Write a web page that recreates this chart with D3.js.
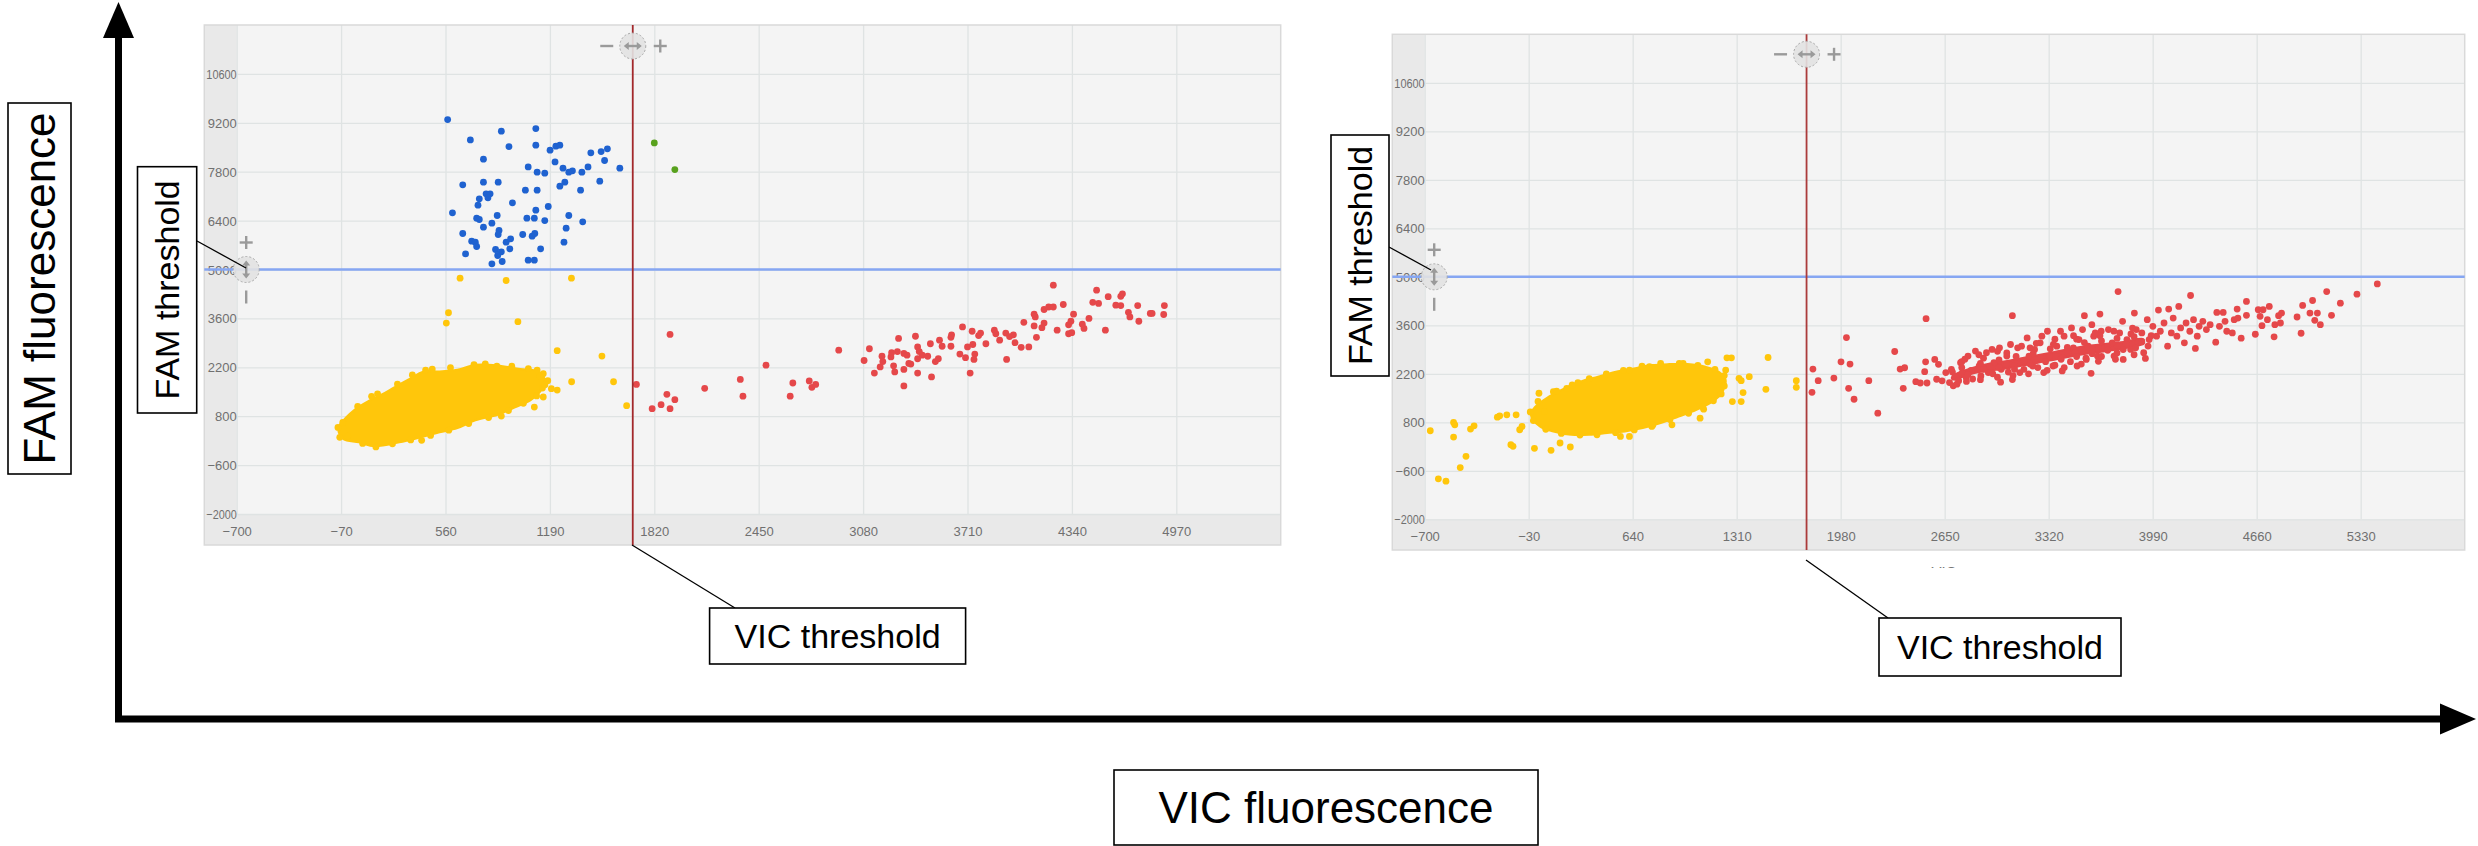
<!DOCTYPE html>
<html><head><meta charset="utf-8">
<script src="https://cdn.jsdelivr.net/npm/d3@7"></script>
<style>html,body{margin:0;padding:0;background:#fff;}svg{display:block;}</style>
</head><body>
<svg id="c" width="2478" height="846"></svg>
<script>
// ---------- axis ticks / domains ----------
const leftTicksX  = [-700, -70, 560, 1190, 1820, 2450, 3080, 3710, 4340, 4970];
const rightTicksX = [-700, -30, 640, 1310, 1980, 2650, 3320, 3990, 4660, 5330];
const ticksY      = [-2000, -600, 800, 2200, 3600, 5000, 6400, 7800, 9200, 10600];
const leftDomainX  = [-700, 5600];
const rightDomainX = [-700, 6000];
const domainY      = [-2000, 12000];
const leftVicThreshold = 1690, leftFamThreshold = 5000;
const rightVicThreshold = 1760, rightFamThreshold = 5000;

// ---------- left plate data [VIC, FAM] ----------
const leftBlue = [[573,9293],[897,8959],[1105,9035],[710,8711],[943,8520],[1105,8558],[1191,8415],[1226,8530],[1250,8558],[1437,8339],[1499,8377],[1537,8454],[789,8158],[1520,8120],[1221,8081],[1059,7938],[1113,7786],[1159,7757],[1269,7900],[1304,7786],[1326,7824],[1383,7786],[1420,7938],[1612,7900],[664,7423],[789,7500],[878,7500],[1042,7271],[1113,7271],[1250,7385],[1280,7500],[1375,7271],[1491,7528],[805,7166],[829,7166],[816,7051],[764,7023],[756,6841],[964,6908],[1180,6803],[1105,6698],[602,6622],[872,6546],[748,6469],[764,6431],[1051,6469],[1096,6469],[1159,6402],[1304,6546],[1388,6364],[840,6326],[789,6212],[883,6116],[878,6002],[664,6030],[1026,6002],[1083,5954],[1099,6030],[1288,6183],[718,5811],[740,5782],[748,5658],[926,5782],[953,5878],[948,5592],[1275,5782],[681,5448],[862,5572],[897,5506],[875,5401],[1134,5592],[902,5229],[840,5162],[1059,5267],[1096,5267]];
const leftGreen = [[1820,8625],[1944,7862]];
const leftYellowCore = [[-83,318],[-56,146],[38,51],[132,-63],[281,51],[416,204],[524,337],[632,461],[740,681],[875,843],[983,1062],[1078,1272],[1132,1511],[1158,1845],[1118,2083],[1010,2150],[875,2255],[740,2274],[632,2131],[524,2083],[430,2083],[335,1845],[254,1635],[173,1415],[92,1225],[11,986],[-43,748],[-83,509]];
const leftYellow = [[648,4752],[926,4685],[1320,4752],[578,3762],[565,3466],[997,3505],[1234,2675],[1504,2522],[1321,1787],[1574,1787],[1653,1101],[1113,2121],[1150,2016],[1177,1816],[1145,1606],[1199,1587],[1234,1549],[1150,1349],[1096,1062],[897,805],[114,1368],[416,108],[-89,480],[-78,194],[440,2121],[732,2274],[870,2236],
  [-60,620],[30,1080],[150,1440],[270,1720],[360,1980],[480,2150],[590,2190],[800,2300],[960,2230],[1060,2160],[1130,1950],[1160,1700],[1110,1380],[1030,1170],[940,960],[820,760],[700,590],[580,400],[470,250],[350,120],[240,10],[140,-80],[60,20],[-30,230]];
const leftRed = [[1712,1711],[1915,3142],[1807,1015],[1861,1129],[1896,1425],[1915,1015],[1944,1272],[2124,1597],[2339,1852],[2355,1372],[2494,2261],[2640,1372],[2656,1750],[2755,1811],[2771,1627],[2794,1709],[2933,2690],[3086,2394],[3118,2731],[3148,2036],[3183,2210],[3199,2363],[3194,2517],[3248,2496],[3252,2619],[3264,2241],[3271,2067],[3287,2649],[3294,3028],[3326,1668],[3326,2138],[3326,2598],[3345,2547],[3356,2312],[3368,2292],[3396,3089],[3409,2782],[3409,2445],[3409,2036],[3419,2649],[3437,2547],[3470,2517],[3486,2874],[3493,1924],[3516,2363],[3534,2445],[3541,2976],[3557,2802],[3610,3058],[3614,3130],[3610,2802],[3664,2578],[3680,3355],[3698,2476],[3710,2782],[3726,2036],[3738,3232],[3742,2853],[3754,2578],[3749,2425],[3777,3109],[3789,3181],[3821,2874],[3872,3263],[3881,3160],[3904,2976],[3946,2425],[3941,3181],[3964,3079],[3987,3130],[3997,2904],[4034,2772],[4050,3487],[4080,2782],[4112,3722],[4119,3641],[4112,3385],[4126,3058],[4159,3334],[4172,3467],[4172,3855],[4200,3927],[4228,3927],[4228,4550],[4251,3263],[4288,3998],[4320,3416],[4320,3160],[4334,3518],[4350,3722],[4339,3191],[4403,3436],[4413,3314],[4443,3600],[4466,4060],[4489,4407],[4501,4029],[4542,3263],[4559,4223],[4605,3978],[4635,4233],[4645,4305],[4635,3968],[4681,3774],[4690,3641],[4737,3968],[4744,3518],[4813,3743],[4824,3743],[4894,3712],[4898,3968]];

// ---------- right plate data [VIC, FAM] ----------
const rightYellowCore = [[42,680],[129,537],[244,441],[359,441],[475,489],[590,537],[705,632],[820,776],[936,967],[1051,1159],[1138,1350],[1195,1542],[1224,1733],[1239,2020],[1195,2260],[1109,2403],[993,2480],[878,2480],[763,2451],[648,2355],[532,2260],[417,2116],[302,1973],[201,1781],[100,1542],[13,1255],[-16,1015]];
const rightYellow = [[-664,556],[-612,-832],[-563,-899],[-514,374],[-514,795],[-506,728],[-471,-507],[-434,-181],[-405,604],[-382,699],[-232,948],[-217,987],[-171,1015],[-111,1015],[-145,154],[-131,106],[-88,585],[-73,680],[7,48],[36,1638],[71,1111],[114,-9],[129,1685],[172,202],[215,1781],[238,87],[287,1944],[1074,920],[1097,1178],[1123,2547],[1247,2662],[1276,2662],[1239,2308],[1325,2068],[1339,2001],[1391,2116],[1498,1752],[1351,1657],[1282,1398],[1339,1398],[1512,2671],[1694,2001],[1694,1810],[619,393],[561,393],[763,680],[893,728],[878,2403],[965,2499],[748,2403],[619,2308],
  [30,1400],[150,1700],[250,1880],[360,2060],[470,2200],[580,2300],[700,2420],[820,2500],[940,2500],[1060,2440],[1170,2330],[1230,2150],[1230,1850],[1210,1620],[1160,1420],[1090,1250],[1000,1060],[880,880],[770,720],[650,580],[530,500],[410,440],[300,430],[180,480],[80,600],[0,850],[-20,1100]];
const rightRedCore = [[2700,2130],[2850,2400],[3086,2600],[3324,2800],[3562,3000],[3800,3120],[3930,3200],[3930,3080],[3800,2930],[3562,2780],[3324,2580],[3086,2380],[2850,2230],[2700,2040]];
const rightRed = [[1795,1666],[1801,2336],[1835,2001],[1936,2078],[1982,2547],[2017,3246],[2040,2480],[2031,1781],[2066,1465],[2161,2001],[2219,1063],[2328,2844],[2363,2336],[2392,2375],[2383,1781],[2464,1973],[2493,1934],[2527,2547],[2521,2260],[2536,1934],[2530,3791],
  [2586,2616],[2598,2043],[2610,2473],[2633,1996],[2657,2234],[2681,1948],[2693,2330],[2705,1852],[2729,1900],[2752,2521],[2764,2234],[2800,2712],[2788,2091],[2848,2855],[2872,2425],[2883,2139],[2919,2807],[2931,2234],[2955,2903],[2967,2521],[3003,2951],[3010,1957],[3014,2330],[3050,2712],[3074,3046],[3086,3877],[3086,2034],[3098,2425],[3134,2234],[3145,2998],[3181,3237],[3193,2712],[3217,2425],[3229,2903],[3265,3094],[3276,3285],[3288,2234],[3312,3428],[3324,2712],[3348,2425],[3372,2998],[3396,3428],[3407,2282],[3419,3285],[3443,2807],[3467,3524],[3479,2951],[3503,2425],[3515,3189],[3538,3476],[3550,3877],[3562,2616],[3574,2998],[3593,2215],[3598,3619],[3610,3285],[3634,2712],[3650,3925],[3658,3428],[3681,2951],[3705,3476],[3729,3094],[3741,2712],[3767,4574],[3777,3380],[3796,3715],[3800,2616],[3824,3189],[3848,2903],[3872,3953],[3884,3476],[3896,3094],[3920,3380],[3932,2807],[3943,2645],[3955,3762],[3967,3189],[3991,3571],[4015,3285],[4027,4039],[4039,3428],[4063,3667],[4086,2998],[4093,4068],[4110,3380],[4122,3810],[4146,3285],[4158,4144],[4170,3524],[4194,3094],[4205,3667],[4229,3428],[4234,4460],[4253,3762],[4265,2932],[4277,3285],[4289,3571],[4313,3715],[4336,3476],[4360,3619],[4396,3113],[4403,3972],[4420,3571],[4444,3972],[4456,3715],[4467,3428],[4503,3380],[4515,3762],[4534,4068],[4539,3810],[4560,3228],[4594,4288],[4594,3887],[4651,3342],[4670,4049],[4682,3858],[4701,4049],[4694,3590],[4729,3762],[4741,4144],[4772,3266],[4777,3619],[4801,3877],[4813,3667],[4820,3953],[4920,3839],[4946,3371],[4956,4173],[5003,3953],[5020,4316],[5034,3743],[5051,3953],[5070,3619],[5111,4574],[5142,3887],[5199,4240],[5306,4498],[5437,4794],
  [2700,2250],[2760,2380],[2820,2300],[2880,2500],[2940,2420],[3000,2600],[3050,2480],[3110,2700],[3160,2560],[3220,2780],[3270,2650],[3330,2920],[3380,2700],[3440,2960],[3490,2820],[3550,3100],[3600,2900],[3660,3150],[3700,2980],[3760,3220],[3820,3050],[3870,3270],[3920,3120],[3980,3300],
  [2720,2100],[2800,2180],[2900,2330],[3000,2380],[3100,2330],[3200,2480],[3300,2550],[3400,2620],[3500,2700],[3600,2780],[3700,2880],[3800,2900],[2760,2550],[2900,2650],[3050,2800],[3200,2950],[3350,3050],[3500,3200],[3650,3300],[3850,3350],
  [2740,2000],[2830,2050],[2960,2200],[3060,2250],[3160,2330],[3250,2380],[3360,2450],[3460,2550],[3560,2650],[3660,2700],[3760,2800],[3880,2950],[3960,3000],
  [2780,2620],[2870,2750],[2990,2850],[3120,2950],[3240,3080],[3360,3200],[3480,3300],[3620,3380],[3740,3430],[3860,3520],
  [2790,1980],[2880,2030],[2990,2100],[3090,2150],[3190,2200],[3310,2300],[3420,2380],[3530,2480],[3640,2560],[3750,2620],[3870,2750]];

// ---------- annotation texts ----------
const famAxisLabel = "FAM fluorescence";
const vicAxisLabel = "VIC fluorescence";
const famThresholdLabel = "FAM threshold";
const vicThresholdLabel = "VIC threshold";
const vicAxisTitle = "VIC";

// ---------- colours ----------
const COL_YELLOW = "#ffc60b", COL_RED = "#e5484a", COL_BLUE = "#1f62d0", COL_GREEN = "#58a11d";
const FONT = '"Liberation Sans", Arial, sans-serif';
const fmt = d3.format("d");

const svg = d3.select("#c");
const defs = svg.append("defs");

function drawPanel(p) {
  const g = svg.append("g");
  const x = d3.scaleLinear().domain(p.domainX).range([p.x0, p.x1]);
  const y = d3.scaleLinear().domain(domainY).range([p.y1, p.y0]);
  g.append("rect").attr("x", p.fx0).attr("y", p.y0).attr("width", p.x1 - p.fx0).attr("height", p.fy1 - p.y0).attr("fill", "#e9e9e9");
  g.append("rect").attr("x", p.x0).attr("y", p.y0).attr("width", p.x1 - p.x0).attr("height", p.y1 - p.y0).attr("fill", "#f4f4f4");
  const gx = g.append("g").attr("transform", `translate(0,${p.y1})`)
    .call(d3.axisBottom(x).tickValues(p.ticksX).tickSize(-(p.y1 - p.y0)).tickFormat(""));
  gx.select(".domain").remove();
  gx.selectAll("line").attr("stroke", "#dfe3e3").attr("stroke-width", 1.3);
  const gy = g.append("g").attr("transform", `translate(${p.x0},0)`)
    .call(d3.axisLeft(y).tickValues(ticksY).tickSize(-(p.x1 - p.x0)).tickFormat(""));
  gy.select(".domain").remove();
  gy.selectAll("line").attr("stroke", "#dfe3e3").attr("stroke-width", 1.3);
  const ax = g.append("g").attr("transform", `translate(0,${(p.y1 + p.fy1) / 2 + 1.5})`)
    .call(d3.axisBottom(x).tickValues(p.ticksX).tickSize(0).tickPadding(0).tickFormat(fmt));
  ax.select(".domain").remove();
  ax.selectAll("text").attr("y", 0).attr("dy", "0.35em").attr("fill", "#707070")
    .style("font-family", FONT).style("font-size", "13px");
  const ay = g.append("g").attr("transform", `translate(${p.x0},0)`)
    .call(d3.axisLeft(y).tickValues(ticksY).tickSize(0).tickPadding(0).tickFormat(fmt));
  ay.select(".domain").remove();
  ay.selectAll("text").attr("x", 0).attr("dy", "0.35em").attr("fill", "#707070")
    .style("font-family", FONT).style("font-size", "13px")
    .each(function () {
      const w = this.getComputedTextLength();
      const maxW = p.x0 - p.fx0 - 2;
      if (w > maxW) d3.select(this).attr("textLength", maxW).attr("lengthAdjust", "spacingAndGlyphs");
    });
  g.append("rect").attr("x", p.fx0).attr("y", p.y0).attr("width", p.x1 - p.fx0).attr("height", p.fy1 - p.y0)
    .attr("fill", "none").attr("stroke", "#d9d9d9").attr("stroke-width", 1.5);

  const cid = "clip" + p.id;
  defs.append("clipPath").attr("id", cid).append("rect")
    .attr("x", p.x0).attr("y", p.y0).attr("width", p.x1 - p.x0).attr("height", p.y1 - p.y0);
  const m = g.append("g").attr("clip-path", `url(#${cid})`);
  const line = d3.line().x(d => x(d[0])).y(d => y(d[1])).curve(d3.curveCatmullRomClosed.alpha(0.5));
  const R = 3.4;
  function dots(data, col) {
    m.append("g").selectAll("circle").data(data).join("circle")
      .attr("cx", d => x(d[0])).attr("cy", d => y(d[1])).attr("r", R).attr("fill", col);
  }
  function core(data, col) {
    m.append("path").datum(data).attr("d", line).attr("fill", col).attr("stroke", col)
      .attr("stroke-width", 2).attr("stroke-linejoin", "round");
  }
  core(p.yellowCore, COL_YELLOW);
  dots(p.yellow, COL_YELLOW);
  if (p.redCore) core(p.redCore, COL_RED);
  dots(p.red, COL_RED);
  if (p.blue) dots(p.blue, COL_BLUE);
  if (p.green) dots(p.green, COL_GREEN);

  const tx = x(p.vicT), ty = y(p.famT);
  g.append("line").attr("x1", p.fx0).attr("x2", p.x1).attr("y1", ty).attr("y2", ty)
    .attr("stroke", "#86a6f2").attr("stroke-width", 2.6);
  g.append("line").attr("x1", tx).attr("x2", tx).attr("y1", p.y0).attr("y2", p.fy1)
    .attr("stroke", p.redLineCol).attr("stroke-width", 1.8);

  const hc = "#9a9a9a";
  function sign(gg, cx, cy, plus, vertical) {
    if (!vertical || plus) gg.append("line").attr("x1", cx - 6.5).attr("x2", cx + 6.5).attr("y1", cy).attr("y2", cy)
      .attr("stroke", hc).attr("stroke-width", 2.4);
    if (plus || vertical) gg.append("line").attr("x1", cx).attr("x2", cx).attr("y1", cy - 6.5).attr("y2", cy + 6.5)
      .attr("stroke", hc).attr("stroke-width", 2.4);
  }
  function handle(cx, cy, vertical) {
    const hg = g.append("g");
    hg.append("circle").attr("cx", cx).attr("cy", cy).attr("r", 13).attr("fill", "#e2e2e2").attr("fill-opacity", 0.9)
      .attr("stroke", "#a9a9a9").attr("stroke-width", 1).attr("stroke-dasharray", "2,2");
    const a = 9, h = 4;
    if (!vertical) {
      hg.append("line").attr("x1", cx - a + 2).attr("x2", cx + a - 2).attr("y1", cy).attr("y2", cy).attr("stroke", hc).attr("stroke-width", 2.4);
      hg.append("path").attr("d", `M${cx - a},${cy} l${h + 1},${-h} v${2 * h} Z M${cx + a},${cy} l${-h - 1},${-h} v${2 * h} Z`).attr("fill", hc);
      sign(hg, cx - 26, cy, false, false);
      sign(hg, cx + 27.5, cy, true, false);
    } else {
      hg.append("line").attr("y1", cy - a + 2).attr("y2", cy + a - 2).attr("x1", cx).attr("x2", cx).attr("stroke", hc).attr("stroke-width", 2.4);
      hg.append("path").attr("d", `M${cx},${cy - a} l${-h},${h + 1} h${2 * h} Z M${cx},${cy + a} l${-h},${-h - 1} h${2 * h} Z`).attr("fill", hc);
      sign(hg, cx, cy - 27, true, true);
      sign(hg, cx, cy + 27.5, false, true);
    }
  }
  handle(tx, p.y0 + p.hOff, false);
  handle(p.x0 + 9.5, ty, true);
  return { x, y };
}

drawPanel({ id: "L", domainX: leftDomainX, ticksX: leftTicksX, fx0: 204.3, x0: 236.7, x1: 1280.7, y0: 25, y1: 514, fy1: 545,
  yellowCore: leftYellowCore, yellow: leftYellow, red: leftRed, blue: leftBlue, green: leftGreen,
  vicT: leftVicThreshold, famT: leftFamThreshold, redLineCol: "#a3282b", hOff: 21 });
drawPanel({ id: "R", domainX: rightDomainX, ticksX: rightTicksX, fx0: 1392.3, x0: 1424.7, x1: 2464.7, y0: 34.3, y1: 519.3, fy1: 550,
  yellowCore: rightYellowCore, yellow: rightYellow, redCore: rightRedCore, red: rightRed,
  vicT: rightVicThreshold, famT: rightFamThreshold, redLineCol: "#ab3b3b", hOff: 20 });

defs.append("clipPath").attr("id", "vicClip").append("rect").attr("x", 1880).attr("y", 552).attr("width", 120).attr("height", 16);
svg.append("text").attr("x", 1944).attr("y", 577).attr("text-anchor", "middle").attr("clip-path", "url(#vicClip)")
  .style("font-family", FONT).style("font-size", "15px").attr("fill", "#777").text(vicAxisTitle);

const ann = svg.append("g");
function box(x0, y0, x1, y1, label, size, rotate) {
  ann.append("rect").attr("x", x0).attr("y", y0).attr("width", x1 - x0).attr("height", y1 - y0)
    .attr("fill", "#fff").attr("stroke", "#000").attr("stroke-width", 1.6);
  const cx = (x0 + x1) / 2, cy = (y0 + y1) / 2;
  ann.append("text").attr("transform", `translate(${cx},${cy})` + (rotate ? " rotate(-90)" : ""))
    .attr("text-anchor", "middle").attr("dy", "0.36em")
    .style("font-family", FONT).style("font-size", size + "px").attr("fill", "#000").text(label);
}
function leader(x1, y1, x2, y2) {
  ann.append("line").attr("x1", x1).attr("y1", y1).attr("x2", x2).attr("y2", y2).attr("stroke", "#000").attr("stroke-width", 1.3);
}
leader(197, 241, 246, 268);
leader(1389, 247, 1431, 270);
leader(632, 545, 735, 608);
leader(1806, 560, 1888, 618);
box(137.5, 166.7, 196.7, 413, famThresholdLabel, 34, true);
box(1331, 135, 1389, 376, famThresholdLabel, 34, true);
box(709.6, 608, 965.6, 664, vicThresholdLabel, 34, false);
box(1879, 618, 2121, 676, vicThresholdLabel, 34, false);
box(8, 103, 71, 474, famAxisLabel, 44, true);
box(1114, 770, 1538, 845, vicAxisLabel, 44, false);

ann.append("line").attr("x1", 118.5).attr("y1", 722).attr("x2", 118.5).attr("y2", 30).attr("stroke", "#000").attr("stroke-width", 7);
ann.append("path").attr("d", "M118.5,2 L103,38 L134,38 Z").attr("fill", "#000");
ann.append("line").attr("x1", 115).attr("y1", 719).attr("x2", 2445).attr("y2", 719).attr("stroke", "#000").attr("stroke-width", 7);
ann.append("path").attr("d", "M2476,719 L2440,703.5 L2440,734.5 Z").attr("fill", "#000");
</script>
</body></html>
